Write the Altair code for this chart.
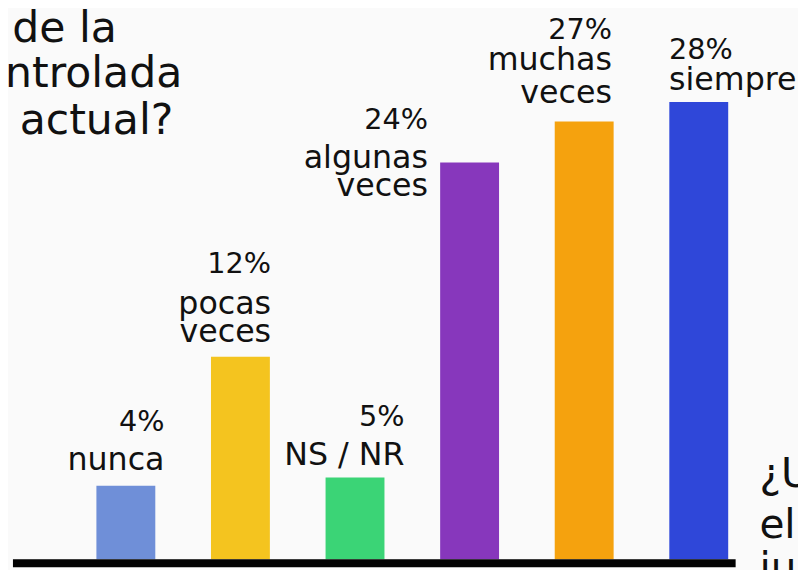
import altair as alt
import pandas as pd

# ---- data ----
categories = ["nunca", "pocas veces", "NS / NR", "algunas veces", "muchas veces", "siempre"]
values = [4.5, 12.4, 5.0, 24.3, 26.8, 28.0]          # bar heights (%)
pct_labels = ["4%", "12%", "5%", "24%", "27%", "28%"]
cat_lines = [["nunca"], ["pocas", "veces"], ["NS / NR"], ["algunas", "veces"],
             ["muchas", "veces"], ["siempre"]]
colors = ["#6f8fd8", "#f4c41f", "#3bd476", "#8737bc", "#f5a20e", "#2f47d9"]

title_lines = ["n de la", "ntrolada", "o actual?"]
side_lines = ["¿U", "el", "ju"]

# ---- layout / style ----
FONT = "DejaVu Sans"
INK = "#111111"
label_style = {
    "nunca":         dict(dx=39, align="right", dys=[-55, -16]),
    "pocas veces":   dict(dx=31, align="right", dys=[-85, -43, -15]),
    "NS / NR":       dict(dx=50, align="right", dys=[-52, -13]),
    "algunas veces": dict(dx=-42, align="right", dys=[-34, 6, 34]),
    "muchas veces":  dict(dx=28, align="right", dys=[-83, -52, -19]),
    "siempre":       dict(dx=-30, align="left", dys=[-43, -12]),
}

df = pd.DataFrame({"cat": categories, "value": values, "pct": pct_labels})

x_enc = alt.X("cat:N", sort=categories, axis=None,
              scale=alt.Scale(range=[89.3, 727.5], paddingInner=0.486,
                              paddingOuter=0, round=False))
y_enc = alt.Y("value:Q", axis=None, scale=alt.Scale(domain=[0, 33.58]))

bars = alt.Chart(df).mark_bar().encode(
    x=x_enc,
    y=y_enc,
    color=alt.Color("cat:N", sort=categories,
                    scale=alt.Scale(domain=categories, range=colors), legend=None),
)

layers = [bars]
for cat, pct, lines in zip(categories, pct_labels, cat_lines):
    st = label_style[cat]
    texts = [pct] + lines
    for i, (txt, dy) in enumerate(zip(texts, st["dys"])):
        layers.append(
            alt.Chart(df).transform_filter(alt.datum.cat == cat)
            .mark_text(font=FONT, fontSize=29 if i == 0 else 32, color=INK,
                       align=st["align"], baseline="alphabetic", dx=st["dx"], dy=dy)
            .encode(x=x_enc, y=y_enc, text=alt.value(txt))
        )

one = pd.DataFrame({"k": [0]})

# title fragment (top-left, cropped)
title_pos = [(110, 31), (176, 77), (167, 124)]
for txt, (tx, ty) in zip(title_lines, title_pos):
    layers.append(
        alt.Chart(one).mark_text(font=FONT, fontSize=43, color=INK, align="right",
                                 baseline="alphabetic")
        .encode(x=alt.value(tx), y=alt.value(ty), text=alt.value(txt))
    )

# side text fragment (bottom-right, cropped)
side_pos = [(759, 481), (759, 533), (759, 576)]
for txt, (tx, ty) in zip(side_lines, side_pos):
    layers.append(
        alt.Chart(one).mark_text(font=FONT, fontSize=41, color=INK, align="left",
                                 baseline="alphabetic")
        .encode(x=alt.value(tx), y=alt.value(ty), text=alt.value(txt))
    )

# baseline
layers.append(
    alt.Chart(one).mark_rule(color="#000000", strokeWidth=8)
    .encode(x=alt.value(5), x2=alt.value(735), y=alt.value(558))
)

chart = alt.layer(*layers).properties(
    width=798, height=554,
    autosize=alt.AutoSizeParams(type="none"),
    padding={"left": 0, "top": 0, "right": 0, "bottom": 8},
    background="#fafafa",
).configure_view(strokeWidth=0)

chart.save("out.html", embed_options={"renderer": "svg", "actions": False})
